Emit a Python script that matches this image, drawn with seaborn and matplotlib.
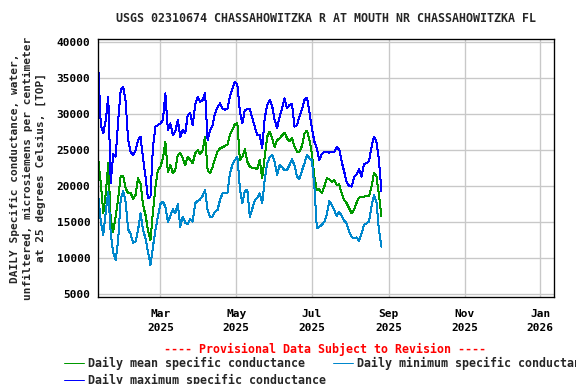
import numpy as np
import pandas as pd
import seaborn as sns
import matplotlib.pyplot as plt
import matplotlib.dates as mdates
from matplotlib.ticker import MultipleLocator

title = "USGS 02310674 CHASSAHOWITZKA R AT MOUTH NR CHASSAHOWITZKA FL"
ylabel = ("DAILY Specific conductance, water,\n"
          "unfiltered, microsiemens per centimeter\n"
          "at 25 degrees Celsius, [TOP]")
notice = "---- Provisional Data Subject to Revision ----"
labels = ["Daily mean specific conductance",
          "Daily minimum specific conductance",
          "Daily maximum specific conductance"]

# readings every 2 days starting 2025-01-10 (NaN = gap in record)
start_date = "2025-01-10"
step = "2D"

max_vals = [
    36380, 28510, 27350, 29210, 32450, 20500, 24500, 24110, 29210, 33370,
    33840, 31750, 26430, 24810, 24350, 25040, 26430, 26890, 23880, 21340,
    18330, 18560, 25500, 28280, 28510, 28740, 29210, 32910, 27820, 28740,
    27120, 27590, 29210, 26890, 27820, 27350, 29900, 30130, 28510, 31290,
    32450, 31750, 31980, 32910, 26430, 27820, 28510, 30130, 30970, 31520,
    30830, 30600, 30830, 32450, 33610, 34530, 34070, 30370, 28740, 30600,
    30690, 30690, np.nan, 28280, 27120, 27120, 25270, 29440, 31290, 31980,
    31150, 29210, 28050, 29670, 30830, 32220, 30830, 31290, 31430, 28280,
    28510, 29670, 30690, 31980, 32310, 30370, 28050, 26200, 25270, 23650,
    24480, 24810, 24810, 24670, 24810, 24810, 25410, 25130, 23420, 22030,
    20640, 20040, 19950, 21250, 21660, 22350, 21340, 23090, 23190, 23500,
    25410, 26890, 26200, 23650, 19300,
]

mean_vals = [
    23650, 20410, 16240, 19020, 23190, 15320, 13700, 15780, 18330, 21480,
    21480, 19720, 19020, 19110, 18240, 18790, 21110, 20410, 17400, 16010,
    13930, 12540, 16470, 19950, 22260, 22720, 23880, 26200, 22030, 22960,
    21800, 22260, 24350, 24580, 23880, 22960, 24110, 23650, 23190, 24580,
    25040, 24440, 25040, 26890, 22260, 21800, 22630, 23880, 24810, 25270,
    25410, 25600, 25830, 27170, 27820, 28650, 28740, 23650, 24110, 25130,
    23420, 22720, 22580, 22580, 22350, 23650, 21110, 24110, 26890, 27590,
    26660, 25410, 26430, 26660, 27080, 27450, 26660, 26290, 26660, 25500,
    24810, 24810, 25600, 27350, 27720, 26430, 24580, 21340, 19480, 19580,
    19020, 19950, 21110, 20970, 20640, 20870, 20180, 20270, 19020, 18090,
    17630, 16940, 16240, 16710, 17720, 18420, 18560, 18560, 18700, 18650,
    19950, 21800, 21430, 18790, 15800,
]

min_vals = [
    18560, 15090, 13240, 16470, 19250, 13470, 10780, 9760, 12540, 18100,
    19390, 17860, 14020, 13370, 12170, 12310, 13930, 16240, 13930, 12770,
    10920, 9070, 11610, 13930, 15780, 17540, 17870, 17170, 15090, 15870,
    16800, 16240, 17540, 14390, 15780, 14950, 14760, 15410, 15090, 17630,
    17960, 18190, 18650, 19480, 16700, 15780, 15780, 16470, 16700, 18100,
    19020, 19020, 19110, 21800, 22960, 23650, 24110, 19720, 17630, 19390,
    19480, 15780, np.nan, 18000, 18420, 19020, 17630, 20870, 23190, 24020,
    24350, 23420, 21570, 22960, 22630, 22260, 22260, 22960, 23740, 22910,
    21340, 21010, 22170, 23190, 24350, 23880, 23650, 19950, 14160, 14390,
    14620, 15090, 16010, 17960, 17400, 16700, 15870, 16430, 15870, 15220,
    14850, 13700, 13000, 12770, 12910, 12400, 13470, 14620, 14850, 15090,
    17170, 18790, 17860, 13930, 11600,
]

dates = pd.date_range(start_date, periods=len(mean_vals), freq=step)
df = pd.DataFrame({"date": dates, "mean": mean_vals,
                   "min": min_vals, "max": max_vals})

sns.set_theme(style="whitegrid")
plt.rcParams["font.family"] = ["DejaVu Sans Mono"]
plt.rcParams["font.weight"] = "bold"

fig = plt.figure(figsize=(6, 4), dpi=96)
ax = fig.add_axes([0.1707, 0.2273, 0.7911, 0.6704])

sns.lineplot(data=df, x="date", y="mean", color="#009900", lw=0.75,
             antialiased=False, ax=ax)
sns.lineplot(data=df, x="date", y="min", color="#0087cc", lw=0.75,
             antialiased=False, ax=ax)
sns.lineplot(data=df, x="date", y="max", color="#0000ff", lw=0.75,
             antialiased=False, ax=ax)
if ax.get_legend():
    ax.get_legend().remove()

ax.set_xlim(pd.Timestamp("2025-01-10"), pd.Timestamp("2026-01-12"))
ax.set_ylim(4660, 40420)
ax.yaxis.set_major_locator(MultipleLocator(5000))
ax.xaxis.set_major_locator(mdates.MonthLocator(bymonth=[1, 3, 5, 7, 9, 11]))
ax.xaxis.set_major_formatter(mdates.DateFormatter("%b\n%Y"))
ax.set_xlabel("")
ax.set_ylabel("")

ax.grid(True, color="#c8c8c8", lw=1.0)
for s in ax.spines.values():
    s.set_color("black")
    s.set_linewidth(1.0)
ax.tick_params(axis="both", length=0, labelsize=8.3, colors="black")
ax.tick_params(axis="y", pad=6)
ax.tick_params(axis="x", pad=9.5)

fig.canvas.draw()
plt.setp(ax.get_xticklabels(), linespacing=1.45)

fig.text(0.566, 1 - 19 / 384, title, ha="center", va="center",
         fontsize=8.7, fontweight="bold")
fig.text(28 / 576, 0.5625, ylabel, rotation=90, ha="center", va="center",
         multialignment="center", fontsize=8.3, fontweight="bold",
         linespacing=1.39)
fig.text(325.5 / 576, 1 - 349 / 384, notice, color="red", ha="center",
         va="center", fontsize=8.7, fontweight="bold")

lines = ax.get_lines()
fig.legend(handles=[lines[0], lines[2], lines[1]],
           labels=[labels[0], labels[2], labels[1]],
           ncol=2, loc="upper left", bbox_to_anchor=(64 / 576, 1 - 357 / 384),
           frameon=False, fontsize=8.7, handlelength=1.72, handletextpad=0.35,
           columnspacing=0.6, borderpad=0, borderaxespad=0, labelspacing=0.3)

fig.savefig("out.png", dpi=96, facecolor="white")
